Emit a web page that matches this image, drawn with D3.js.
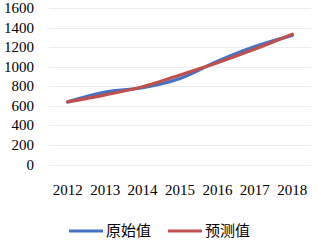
<html>
<head>
  <style>
    body { margin: 0; background: #fff; }
    text { font-family: "Liberation Serif", "Times New Roman", serif; fill: #000; }
  </style>
</head>
<body>
<div id="chart"></div>
<script src="https://cdn.jsdelivr.net/npm/d3@7"></script>
<script>
  // values
  var years = ["2012", "2013", "2014", "2015", "2016", "2017", "2018"];
  var original = [640, 740, 785, 880, 1055, 1205, 1320];
  var predicted = [640, 712, 795, 915, 1040, 1180, 1332];
  var yTicks = [0, 200, 400, 600, 800, 1000, 1200, 1400, 1600];

  var W = 321, H = 241;
  var svg = d3.select("#chart").append("svg").attr("width", W).attr("height", H);

  var x = d3.scaleBand().domain(years).range([49, 311]);
  var y = d3.scaleLinear().domain([0, 1600]).range([164.5, 8]);

  // gridlines
  svg.append("g").selectAll("line").data(yTicks).enter().append("line")
    .attr("x1", 49).attr("x2", 311)
    .attr("y1", function (d) { return Math.round(y(d)) + 0.5; })
    .attr("y2", function (d) { return Math.round(y(d)) + 0.5; })
    .attr("stroke", "#ececec").attr("stroke-width", 1);

  // y labels
  svg.append("g").selectAll("text").data(yTicks).enter().append("text")
    .attr("x", 34).attr("y", function (d) { return y(d) + 5; })
    .attr("text-anchor", "end").style("font-size", "15px")
    .text(function (d) { return d; });

  // x labels
  svg.append("g").selectAll("text").data(years).enter().append("text")
    .attr("x", function (d) { return x(d) + x.bandwidth() / 2; })
    .attr("y", 195).attr("text-anchor", "middle").style("font-size", "15px")
    .text(function (d) { return d; });

  var line = d3.line()
    .x(function (d, i) { return x(years[i]) + x.bandwidth() / 2; })
    .y(function (d) { return y(d); })
    .curve(d3.curveCatmullRom.alpha(0.5));

  var series = [
    { name: "原始值", values: original, color: "#4472C4" },
    { name: "预测值", values: predicted, color: "#C0504D" }
  ];

  series.forEach(function (s) {
    svg.append("path").datum(s.values)
      .attr("d", line).attr("fill", "none")
      .attr("stroke", s.color).attr("stroke-width", 3.2)
      .attr("stroke-linecap", "round");
  });

  // legend
  var leg = svg.append("g");
  var lx = [69, 168];
  series.forEach(function (s, i) {
    leg.append("line")
      .attr("x1", lx[i]).attr("x2", lx[i] + 34)
      .attr("y1", 231).attr("y2", 231)
      .attr("stroke", s.color).attr("stroke-width", 3);
    leg.append("text")
      .attr("x", lx[i] + 37).attr("y", 236)
      .style("font-family", "'Noto Sans CJK SC', sans-serif")
      .style("font-size", "15px")
      .text(s.name);
  });
</script>
</body>
</html>
